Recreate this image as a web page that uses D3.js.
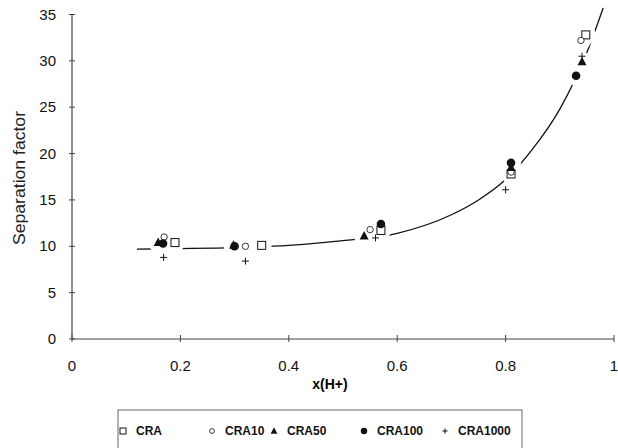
<!DOCTYPE html>
<html>
<head>
<meta charset="utf-8">
<script src="https://cdn.jsdelivr.net/npm/d3@7"></script>
<style>
  body { margin: 0; background: #fff; }
  svg { display: block; font-family: Arial, "Liberation Sans", sans-serif; }
</style>
</head>
<body>
<div id="chart"></div>
<script>
"use strict";

// Data
const seriesNames = ["CRA", "CRA10", "CRA50", "CRA100", "CRA1000"];
const xCRA = [0.19, 0.35, 0.57, 0.81, 0.948];
const yCRA = [10.4, 10.1, 11.7, 17.8, 32.8];
const xCRA10 = [0.17, 0.32, 0.55, 0.81, 0.939];
const yCRA10 = [11.0, 10.0, 11.8, 18.0, 32.2];
const xCRA50 = [0.159, 0.298, 0.539, 0.81, 0.941];
const yCRA50 = [10.4, 10.1, 11.1, 18.5, 29.9];
const xCRA100 = [0.168, 0.30, 0.57, 0.81, 0.93];
const yCRA100 = [10.3, 10.0, 12.4, 19.0, 28.4];
const xCRA1000 = [0.169, 0.32, 0.56, 0.80, 0.941];
const yCRA1000 = [8.8, 8.4, 10.9, 16.1, 30.5];

// fitted curve, read point by point
const fitX = [0.12, 0.2, 0.3, 0.4, 0.5, 0.6, 0.7, 0.75, 0.8, 0.85, 0.9, 0.95, 0.98];
const fitY = [9.7, 9.75, 9.85, 10.1, 10.6, 11.4, 13.4, 15.0, 17.2, 20.5, 24.8, 30.9, 35.7];

const xTicks = [0, 0.2, 0.4, 0.6, 0.8, 1];
const yTicks = [0, 5, 10, 15, 20, 25, 30, 35];

const width = 618, height = 448;
const svg = d3.select("#chart").append("svg")
    .attr("width", width)
    .attr("height", height);

const x = d3.scaleLinear().domain([0, 1]).range([72, 614]);
const y = d3.scaleLinear().domain([0, 35]).range([339, 14.5]);

// Axes
const axisColor = "#444";
svg.append("line")
    .attr("x1", x(0)).attr("x2", x(0))
    .attr("y1", y(35)).attr("y2", y(0))
    .attr("stroke", axisColor).attr("stroke-width", 1.2);
svg.append("line")
    .attr("x1", x(0)).attr("x2", x(1))
    .attr("y1", y(0)).attr("y2", y(0))
    .attr("stroke", axisColor).attr("stroke-width", 1.2);

svg.selectAll(".ytick").data(yTicks).join("line")
    .attr("class", "ytick")
    .attr("x1", x(0) - 3).attr("x2", x(0) + 3)
    .attr("y1", d => y(d)).attr("y2", d => y(d))
    .attr("stroke", axisColor);
svg.selectAll(".ylab").data(yTicks).join("text")
    .attr("class", "ylab")
    .attr("x", 56).attr("y", d => y(d) + 5)
    .attr("text-anchor", "end")
    .attr("font-size", 15).attr("fill", "#111")
    .text(d => d);

svg.selectAll(".xtick").data(xTicks).join("line")
    .attr("class", "xtick")
    .attr("x1", d => x(d)).attr("x2", d => x(d))
    .attr("y1", y(0) - 4).attr("y2", y(0) + 3)
    .attr("stroke", axisColor);
svg.selectAll(".xlab").data(xTicks).join("text")
    .attr("class", "xlab")
    .attr("x", d => x(d)).attr("y", 371)
    .attr("text-anchor", "middle")
    .attr("font-size", 15).attr("fill", "#111")
    .text(d => d);

svg.append("text")
    .attr("x", 330).attr("y", 389)
    .attr("text-anchor", "middle")
    .attr("font-size", 14).attr("font-weight", "bold")
    .text("x(H+)");

// condensed look of the original axis title
svg.append("text")
    .attr("transform", `translate(25,178) rotate(-90)`)
    .attr("text-anchor", "middle")
    .attr("font-size", 17).attr("fill", "#222")
    .attr("textLength", 134).attr("lengthAdjust", "spacingAndGlyphs")
    .text("Separation factor");

// Fitted curve
const fit = fitX.map((v, i) => [v, fitY[i]]);
svg.append("path")
    .datum(fit)
    .attr("fill", "none")
    .attr("stroke", "#111")
    .attr("stroke-width", 1.3)
    .attr("d", d3.line().x(d => x(d[0])).y(d => y(d[1])).curve(d3.curveMonotoneX));

const series = [
    { name: "CRA", xs: xCRA, ys: yCRA, shape: "square" },
    { name: "CRA10", xs: xCRA10, ys: yCRA10, shape: "openCircle" },
    { name: "CRA50", xs: xCRA50, ys: yCRA50, shape: "triangle" },
    { name: "CRA100", xs: xCRA100, ys: yCRA100, shape: "dot" },
    { name: "CRA1000", xs: xCRA1000, ys: yCRA1000, shape: "plus" }
];

// white gaps in the curve around markers
const allPts = series.flatMap(s => s.xs.map((v, i) => [v, s.ys[i], s.shape]));
svg.selectAll(".halo").data(allPts.filter(d => d[2] !== "plus")).join("circle")
    .attr("class", "halo")
    .attr("cx", d => x(d[0])).attr("cy", d => y(d[1]))
    .attr("r", 10).attr("fill", "#fff");

function drawMarker(g, shape, cx, cy, scale) {
    const k = scale || 1;
    if (shape === "square") {
        g.append("rect").attr("x", cx - 4 * k).attr("y", cy - 4 * k)
            .attr("width", 8 * k).attr("height", 8 * k)
            .attr("fill", "#fff").attr("stroke", "#111").attr("stroke-width", 1);
    } else if (shape === "openCircle") {
        g.append("circle").attr("cx", cx).attr("cy", cy).attr("r", 3.2 * k)
            .attr("fill", "#fff").attr("stroke", "#222").attr("stroke-width", 0.9);
    } else if (shape === "triangle") {
        g.append("path")
            .attr("d", `M${cx},${cy - 5 * k}L${cx + 4.5 * k},${cy + 3.5 * k}L${cx - 4.5 * k},${cy + 3.5 * k}Z`)
            .attr("fill", "#111");
    } else if (shape === "dot") {
        g.append("circle").attr("cx", cx).attr("cy", cy).attr("r", 4.3 * k).attr("fill", "#111");
    } else {
        g.append("path")
            .attr("d", `M${cx - 3.5 * k},${cy}H${cx + 3.5 * k}M${cx},${cy - 3.5 * k}V${cy + 3.5 * k}`)
            .attr("stroke", "#111").attr("stroke-width", 1);
    }
}

const marks = svg.append("g");
series.forEach(s => {
    s.xs.forEach((v, i) => drawMarker(marks, s.shape, x(v), y(s.ys[i])));
});

// Legend
const legend = svg.append("g");
legend.append("rect")
    .attr("x", 118).attr("y", 410)
    .attr("width", 404).attr("height", 60)
    .attr("fill", "none").attr("stroke", "#666").attr("stroke-width", 1);
const legendMarkX = [123, 212, 274, 364, 445];
series.forEach((s, i) => {
    drawMarker(legend, s.shape, legendMarkX[i], 431, 0.75);
    legend.append("text")
        .attr("x", legendMarkX[i] + 13).attr("y", 435)
        .attr("font-size", 12).attr("font-weight", "bold").attr("fill", "#111")
        .text(seriesNames[i]);
});
</script>
</body>
</html>
